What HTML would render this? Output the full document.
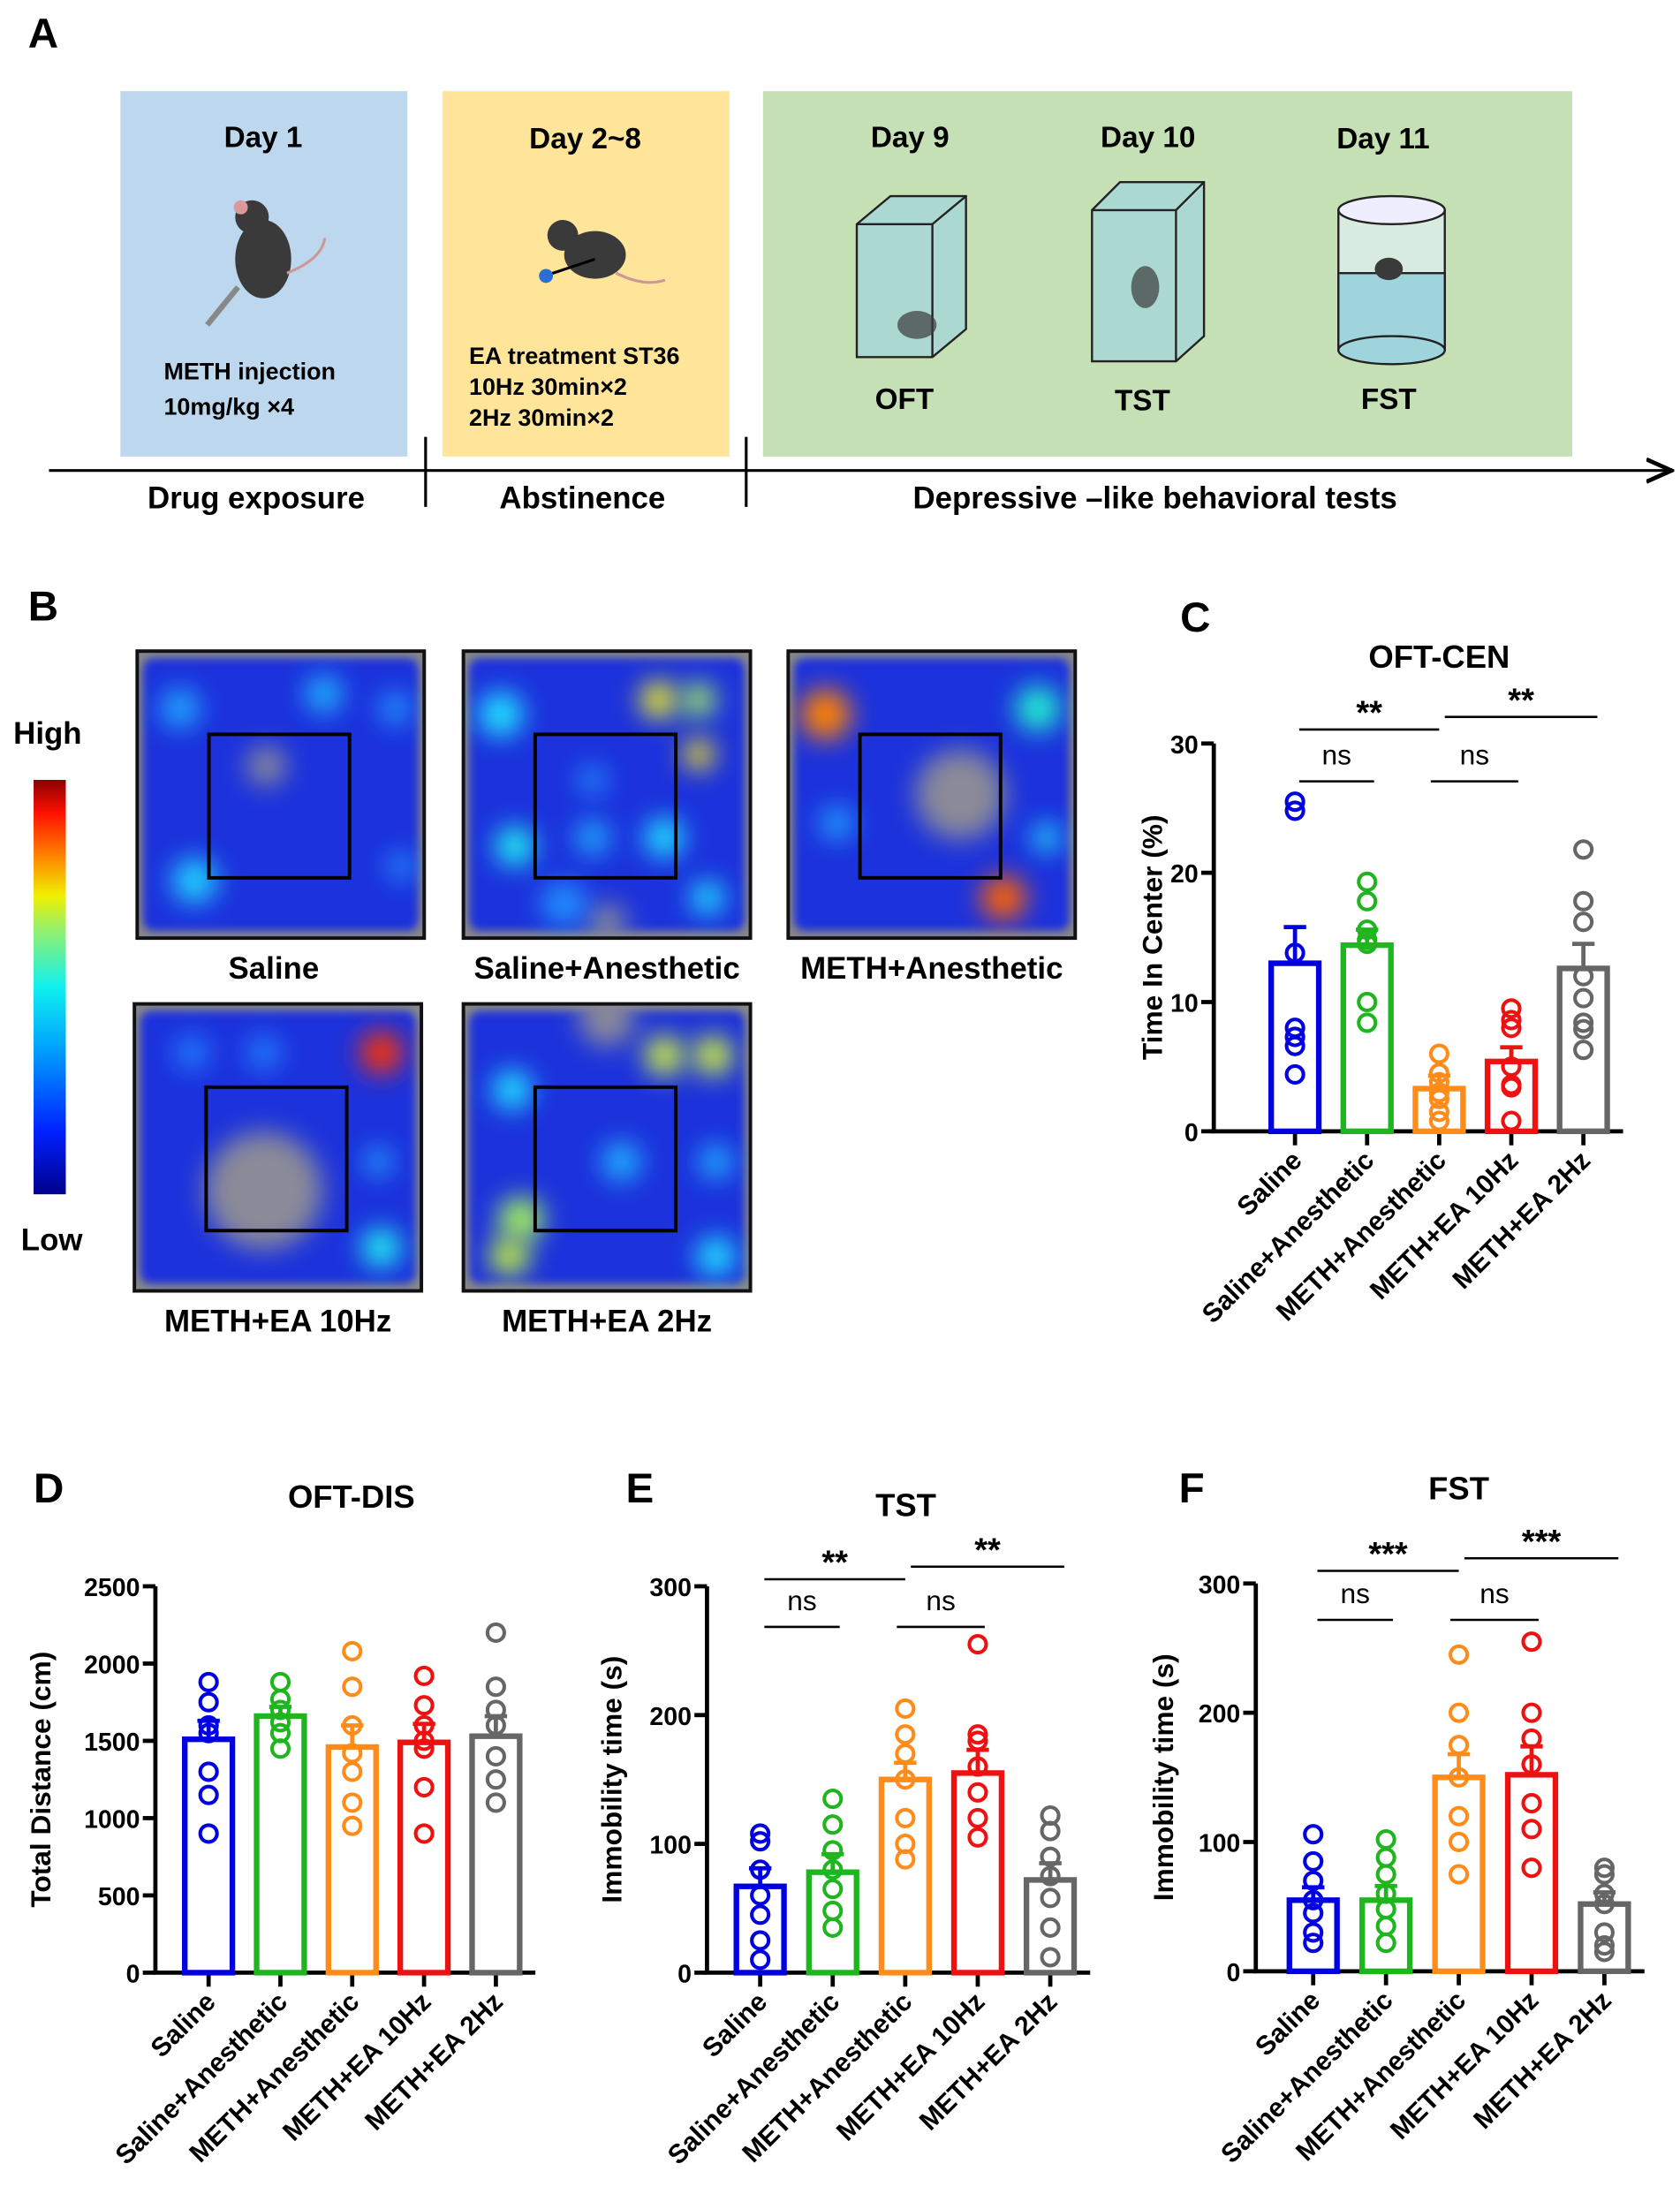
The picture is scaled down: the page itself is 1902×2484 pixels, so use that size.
<!DOCTYPE html>
<html><head><meta charset="utf-8">
<style>
html,body{margin:0;padding:0;background:#fff;}
svg{display:block;font-family:"Liberation Sans",Arial,sans-serif;}
.b{font-weight:bold;}
</style></head>
<body>
<svg id="fig" width="1902" height="2484" viewBox="0 0 1200 1567" xmlns="http://www.w3.org/2000/svg">
<defs>
<filter id="blur" x="-80%" y="-80%" width="260%" height="260%"><feGaussianBlur stdDeviation="9"/></filter>
<filter id="blur2" x="-50%" y="-50%" width="200%" height="200%"><feGaussianBlur stdDeviation="3"/></filter>
<linearGradient id="cbar" x1="0" y1="1" x2="0" y2="0">
<stop offset="0" stop-color="#00008b"/><stop offset="0.15" stop-color="#0020ff"/><stop offset="0.35" stop-color="#00a0ff"/><stop offset="0.5" stop-color="#10f0f0"/><stop offset="0.65" stop-color="#a0f060"/><stop offset="0.72" stop-color="#f0f000"/><stop offset="0.82" stop-color="#ff8000"/><stop offset="0.92" stop-color="#ff1000"/><stop offset="1" stop-color="#8b0000"/>
</linearGradient>
<marker id="arr" markerWidth="10" markerHeight="10" refX="8" refY="5" orient="auto"><path d="M0,1 L9,5 L0,9" fill="none" stroke="#000" stroke-width="1.5"/></marker>
</defs>

<g>
<text x="20" y="34" font-size="30" class="b">A</text>
<rect x="86" y="65" width="205" height="261" fill="#bdd7ee"/>
<rect x="316" y="65" width="205" height="261" fill="#ffe599"/>
<rect x="545" y="65" width="578" height="261" fill="#c5e0b4"/>
<text x="188" y="105" font-size="21" class="b" text-anchor="middle">Day 1</text>
<text x="418" y="106" font-size="21" class="b" text-anchor="middle">Day 2~8</text>
<text x="650" y="105" font-size="21" class="b" text-anchor="middle">Day 9</text>
<text x="820" y="105" font-size="21" class="b" text-anchor="middle">Day 10</text>
<text x="988" y="106" font-size="21" class="b" text-anchor="middle">Day 11</text>
<g>
<ellipse cx="188" cy="185" rx="20" ry="28" fill="#3a3a3a"/><circle cx="180" cy="155" r="12" fill="#3a3a3a"/>
<circle cx="172" cy="148" r="5" fill="#d99"/><line x1="170" y1="205" x2="148" y2="232" stroke="#888" stroke-width="4"/>
<path d="M205,195 Q230,185 232,170" stroke="#c99" stroke-width="2" fill="none"/>
</g>
<text x="117" y="271" font-size="17" class="b">METH injection</text>
<text x="117" y="296" font-size="17" class="b">10mg/kg ×4</text>
<g>
<ellipse cx="425" cy="182" rx="22" ry="17" fill="#3a3a3a"/><circle cx="402" cy="168" r="11" fill="#3a3a3a"/>
<line x1="392" y1="196" x2="425" y2="185" stroke="#000" stroke-width="2"/><circle cx="390" cy="197" r="5" fill="#2a6fd6"/>
<path d="M440,195 Q460,205 475,200" stroke="#c99" stroke-width="2" fill="none"/>
</g>
<text x="335" y="260" font-size="17" class="b">EA treatment ST36</text>
<text x="335" y="282" font-size="17" class="b">10Hz 30min×2</text>
<text x="335" y="304" font-size="17" class="b">2Hz 30min×2</text>
<g stroke="#222" stroke-width="1.5" fill="#9fd4dc" fill-opacity="0.7">
<polygon points="612,160 636,140 690,140 690,235 666,255 612,255"/>
<line x1="612" y1="160" x2="666" y2="160"/><line x1="666" y1="160" x2="690" y2="140"/><line x1="666" y1="160" x2="666" y2="255"/>
<ellipse cx="655" cy="232" rx="14" ry="10" fill="#3a3a3a" stroke="none"/>
</g>
<g stroke="#222" stroke-width="1.5" fill="#9fd4dc" fill-opacity="0.7">
<polygon points="780,150 800,130 860,130 860,240 840,258 780,258"/>
<line x1="780" y1="150" x2="840" y2="150"/><line x1="840" y1="150" x2="860" y2="130"/><line x1="840" y1="150" x2="840" y2="258"/>
<ellipse cx="818" cy="205" rx="10" ry="15" fill="#3a3a3a" stroke="none"/>
</g>
<g stroke="#222" stroke-width="1.5">
<rect x="956" y="150" width="76" height="100" fill="#dfeff2" fill-opacity="0.7"/>
<rect x="956" y="195" width="76" height="55" fill="#9fd4dc"/>
<ellipse cx="994" cy="150" rx="38" ry="10" fill="#eef"/><ellipse cx="994" cy="250" rx="38" ry="10" fill="#9fd4dc"/>
<ellipse cx="992" cy="192" rx="10" ry="8" fill="#3a3a3a" stroke="none"/>
</g>
<text x="646" y="292" font-size="21" class="b" text-anchor="middle">OFT</text>
<text x="816" y="293" font-size="21" class="b" text-anchor="middle">TST</text>
<text x="992" y="292" font-size="21" class="b" text-anchor="middle">FST</text>
<line x1="35" y1="336" x2="1192" y2="336" stroke="#000" stroke-width="2" marker-end="url(#arr)"/>
<line x1="304" y1="312" x2="304" y2="362" stroke="#000" stroke-width="2"/>
<line x1="533" y1="312" x2="533" y2="362" stroke="#000" stroke-width="2"/>
<text x="183" y="363" font-size="22" class="b" text-anchor="middle">Drug exposure</text>
<text x="416" y="363" font-size="22" class="b" text-anchor="middle">Abstinence</text>
<text x="825" y="363" font-size="22" class="b" text-anchor="middle">Depressive –like behavioral tests</text>
</g>

<g id="panelB">
<text x="20" y="443" font-size="30" class="b">B</text>
<text x="34" y="531" font-size="22" class="b" text-anchor="middle">High</text>
<rect x="24" y="557" width="23" height="296" fill="url(#cbar)"/>
<text x="37" y="893" font-size="22" class="b" text-anchor="middle">Low</text>
</g>

<g id="charts"></g>
</svg>
<script>
const NS="http://www.w3.org/2000/svg";
function mk(parent,tag,attrs,txt){const e=document.createElementNS(NS,tag);for(const k in attrs)e.setAttribute(k,attrs[k]);if(txt!==undefined)e.textContent=txt;parent.appendChild(e);return e;}

const heatmapNames=["Saline","Saline+Anesthetic","METH+Anesthetic","METH+EA 10Hz","METH+EA 2Hz"];
const heatBoxes=[[98,465],[331,465],[563,465],[96,717],[331,717]];
const heatBlobs=[
 [[0.15,0.2,14,"#20a8ff"],[0.65,0.15,13,"#20b8ff"],[0.9,0.2,12,"#2090ff"],[0.2,0.8,16,"#20d0ff"],[0.92,0.75,10,"#2090ff"]],
 [[0.13,0.22,16,"#20e0ff"],[0.68,0.17,13,"#f0f020"],[0.82,0.17,12,"#a0f060"],[0.82,0.36,11,"#f0e020"],[0.18,0.68,14,"#20f0f0"],[0.45,0.65,12,"#20b0ff"],[0.7,0.65,14,"#20e0ff"],[0.35,0.88,16,"#2090ff"],[0.85,0.86,12,"#20e0ff"],[0.45,0.45,10,"#2090ff"]],
 [[0.13,0.22,18,"#ff8000"],[0.87,0.2,16,"#20f0d0"],[0.17,0.6,12,"#20a0ff"],[0.75,0.86,16,"#ff6000"],[0.9,0.65,10,"#20e0ff"]],
 [[0.86,0.17,15,"#ff3000"],[0.2,0.17,12,"#2080ff"],[0.45,0.17,12,"#2080ff"],[0.86,0.85,14,"#20f0f0"],[0.85,0.55,10,"#20a0ff"]],
 [[0.7,0.18,14,"#d0f040"],[0.87,0.18,14,"#d0f040"],[0.17,0.3,14,"#20e0ff"],[0.2,0.75,16,"#a0f060"],[0.16,0.88,14,"#c0f040"],[0.55,0.55,14,"#20b0ff"],[0.88,0.55,12,"#20b0ff"],[0.88,0.88,14,"#20e0ff"]]
];
const heatGray=[[0.45,0.4,14],[0.5,0.95,14],[0.6,0.5,32],[0.45,0.65,42],[0.5,0.05,20]];
const pB=document.getElementById('panelB');
heatmapNames.forEach((nm,i)=>{
 const [x,y]=heatBoxes[i];const w=205,h=205;
 const g=mk(pB,'g',{});
 
 
 const cp=mk(g,'clipPath',{id:'cp'+i});mk(cp,'rect',{x:x,y:y,width:w,height:h});
 const gi=mk(g,'g',{'clip-path':'url(#cp'+i+')'});
 mk(gi,'rect',{x:x,y:y,width:w,height:h,fill:'#888'});
 mk(gi,'rect',{x:x+4,y:y+5,width:w-8,height:h-10,fill:'#1a30dc',rx:8,filter:'url(#blur2)'});
 const gr=heatGray[i];mk(gi,'circle',{cx:x+gr[0]*w,cy:y+gr[1]*h,r:gr[2],fill:'#8a8a98',filter:'url(#blur)'});
 heatBlobs[i].forEach(b=>{mk(gi,'circle',{cx:x+b[0]*w,cy:y+b[1]*h,r:b[2],fill:b[3],filter:'url(#blur)'});});
 mk(g,'rect',{x:x,y:y,width:w,height:h,fill:'none',stroke:'#111','stroke-width':2.5});
 mk(g,'rect',{x:x+w*0.25,y:y+h*0.29,width:w*0.49,height:h*0.5,fill:'none',stroke:'#000','stroke-width':2.5});
 const t=mk(pB,'text',{x:x+w/2-(i==0?5:0),y:y+h+29,'font-size':22,'font-weight':'bold','text-anchor':'middle'},nm);
 
 
});

const groups=["Saline","Saline+Anesthetic","METH+Anesthetic","METH+EA 10Hz","METH+EA 2Hz"];
const colors=["#0000e0","#1fb51f","#ff8c1a","#ee1111","#666666"];

const cMeans=[13.0,14.4,3.3,5.4,12.6];
const cSem=[2.8,1.2,1.0,1.1,1.9];
const cPts=[[25.5,24.8,13.8,8.0,7.3,6.6,4.4],[19.3,17.8,15.6,14.5,14.8,10.0,8.4],[6.0,4.5,3.8,2.5,1.5,0.8,3.0],[9.5,8.6,8.0,5.0,3.6,3.4,0.8],[21.8,17.8,16.2,12.0,10.3,8.4,7.9,6.3]];
const cTicks=[0,10,20,30];

const dMeans=[1510,1660,1460,1490,1530];
const dSem=[120,60,140,120,130];
const dPts=[[1880,1750,1600,1550,1300,1150,900],[1880,1770,1700,1620,1550,1450],[2080,1850,1600,1420,1300,1100,950],[1920,1730,1600,1500,1450,1200,900],[2200,1850,1700,1600,1400,1250,1100]];
const dTicks=[0,500,1000,1500,2000,2500];

const eMeans=[67,78,150,155,72];
const eSem=[14,14,13,18,13];
const ePts=[[108,102,80,60,45,25,10],[135,115,95,80,65,48,35],[205,185,170,150,120,100,88],[255,185,180,160,140,120,105],[122,110,90,75,58,35,12]];
const eTicks=[0,100,200,300];

const fMeans=[55,55,150,152,52];
const fSem=[10,11,18,22,9];
const fPts=[[106,85,70,55,45,30,22],[102,88,75,60,48,35,22],[245,200,175,150,120,100,75],[255,200,180,160,130,110,80],[80,75,60,52,30,20,15]];
const fTicks=[0,100,200,300];

const sigC=[[0,2,"**",0],[0,1,"ns",1],[2,3,"ns",1],[2,4,"**",0]];
const sigE=[[0,2,"**",0],[0,1,"ns",1],[2,3,"ns",1],[2,4,"**",0]];
const sigF=[[0,2,"***",0],[0,1,"ns",1],[2,3,"ns",1],[2,4,"***",0]];

const charts=document.getElementById('charts');
function chart(o){
 const g=mk(charts,'g',{});
 
 
 const max=o.ticks[o.ticks.length-1];
 const yS=v=>o.y0-(v/max)*(o.y0-o.yTop);
 const xS=i=>o.x1+o.step*i;
 const pl=mk(g,'text',{x:o.lx,y:o.ly,'font-size':30,'font-weight':'bold'},o.letter);
 
 
 const tt=mk(g,'text',{x:o.tx,y:o.ty,'font-size':23,'font-weight':'bold','text-anchor':'middle'},o.title);
 
 
 const xEnd=xS(4)+o.step*0.55;
 const ax=mk(g,'path',{d:`M${o.ax},${o.yTop} L${o.ax},${o.y0} L${xEnd},${o.y0}`,fill:'none',stroke:'#000','stroke-width':3});
 
 
 o.ticks.forEach(t=>{
  mk(g,'line',{x1:o.ax-9,y1:yS(t),x2:o.ax,y2:yS(t),stroke:'#000','stroke-width':3});
  const tl=mk(g,'text',{x:o.ax-11,y:yS(t)+7,'font-size':18,'font-weight':'bold','text-anchor':'end'},t);
  
  
 });
 const yl=mk(g,'text',{x:0,y:0,'font-size':20,'font-weight':'bold','text-anchor':'middle',transform:`translate(${o.ylx},${(o.y0+o.yTop)/2}) rotate(-90)`},o.ylabel);
 
 
 groups.forEach((gn,i)=>{
  const cx=xS(i),bw=34,c=colors[i];
  mk(g,'line',{x1:cx,y1:o.y0,x2:cx,y2:o.y0+10,stroke:'#000','stroke-width':3});
  const bar=mk(g,'rect',{x:cx-bw/2,y:yS(o.means[i]),width:bw,height:o.y0-yS(o.means[i]),fill:'none',stroke:c,'stroke-width':4});
  
  
  const top=yS(o.means[i]+o.sem[i]);
  mk(g,'line',{x1:cx,y1:yS(o.means[i]),x2:cx,y2:top,stroke:c,'stroke-width':3});
  mk(g,'line',{x1:cx-8,y1:top,x2:cx+8,y2:top,stroke:c,'stroke-width':3});
  o.pts[i].forEach(v=>{
   const p=mk(g,'circle',{cx:cx,cy:yS(v),r:6,fill:'none',stroke:c,'stroke-width':2.6});
   
   
  });
  const xl=mk(g,'text',{x:0,y:0,'font-size':19,'font-weight':'bold','text-anchor':'end',transform:`translate(${cx+6},${o.y0+22}) rotate(-45)`},gn);
  
  
 });
 (o.sig||[]).forEach(s=>{
  const yy=s[3]?o.sigLow:o.sigHigh;
  const xa=xS(s[0])+(s[0]==2&&s[1]==4?4:(s[0]==2?-6:3)), xb=xS(s[1])+(s[1]==2?0:(s[1]==4?10:5));
  const yline=(s[0]==2&&s[1]==4)?yy-9:yy;
  mk(g,'line',{x1:xa,y1:yline,x2:xb,y2:yline,stroke:'#000','stroke-width':1.6});
  const st=mk(g,'text',{x:(xa+xb)/2,y:yline-(s[2]=="ns"?12:4),'font-size':s[2]=="ns"?20:24,'font-weight':s[2]=="ns"?'normal':'bold','text-anchor':'middle'},s[2]);
  
  
 });
}
chart({name:'chart-oft-cen',letter:'C',lx:843,ly:451,title:'OFT-CEN',tx:1028,ty:477,ax:867,y0:808,yTop:531,x1:925,step:51.5,ticks:cTicks,means:cMeans,sem:cSem,pts:cPts,ylabel:'Time In Center (%)',ylx:830,sig:sigC,sigHigh:521,sigLow:558});
chart({name:'chart-oft-dis',letter:'D',lx:24,ly:1073,title:'OFT-DIS',tx:251,ty:1077,ax:111,y0:1409,yTop:1133,x1:149,step:51.3,ticks:dTicks,means:dMeans,sem:dSem,pts:dPts,ylabel:'Total Distance (cm)',ylx:36,});
chart({name:'chart-tst',letter:'E',lx:447,ly:1073,title:'TST',tx:647,ty:1083,ax:505,y0:1409,yTop:1133,x1:543,step:51.8,ticks:eTicks,means:eMeans,sem:eSem,pts:ePts,ylabel:'Immobility time (s)',ylx:444,sig:sigE,sigHigh:1128,sigLow:1162});
chart({name:'chart-fst',letter:'F',lx:842,ly:1073,title:'FST',tx:1042,ty:1071,ax:897,y0:1408,yTop:1131,x1:938,step:52,ticks:fTicks,means:fMeans,sem:fSem,pts:fPts,ylabel:'Immobility time (s)',ylx:838,sig:sigF,sigHigh:1122,sigLow:1157});
</script>
</body></html>
